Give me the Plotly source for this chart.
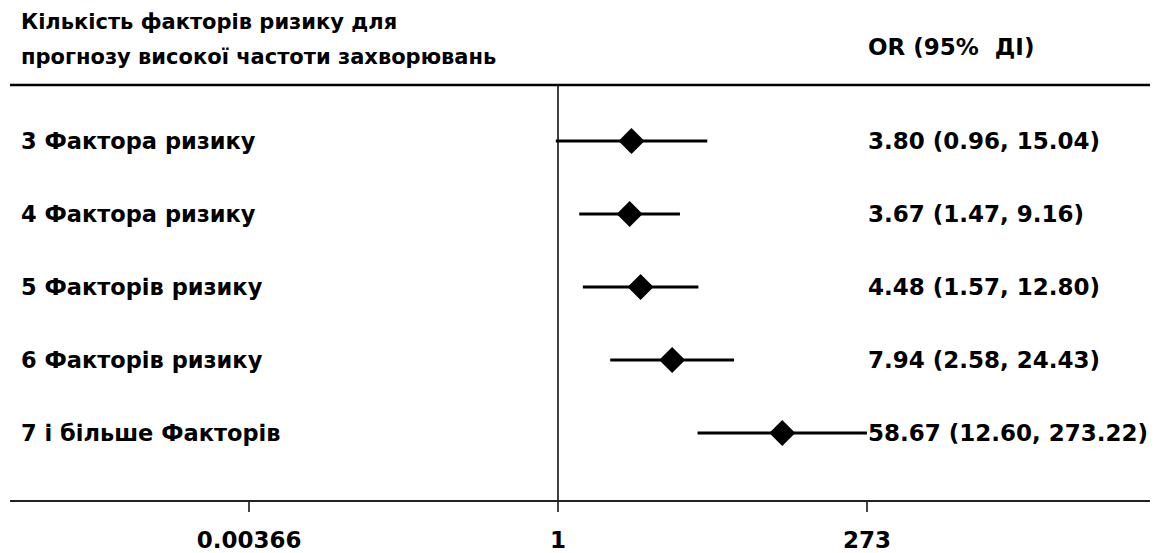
import plotly.graph_objects as go

labels = ["3 Фактора ризику", "4 Фактора ризику", "5 Факторів ризику",
          "6 Факторів ризику", "7 і більше Факторів"]
odds = [3.80, 3.67, 4.48, 7.94, 58.67]
lower = [0.96, 1.47, 1.57, 2.58, 12.60]
upper = [15.04, 9.16, 12.80, 24.43, 273.22]
rows = [5, 4, 3, 2, 1]
tick_vals = [0.00366, 1, 273]
tick_text = ["0.00366", "1", "273"]
header_left = ["Кількість факторів ризику для", "прогнозу високої частоти захворювань"]
header_right = "OR (95%  ДІ)"

FONT = "DejaVu Sans"

fig = go.Figure()
fig.add_trace(go.Scatter(
    x=odds, y=rows, mode="markers",
    marker=dict(symbol="diamond", size=20, color="black"),
    error_x=dict(type="data", symmetric=False,
                 array=[u - o for u, o in zip(upper, odds)],
                 arrayminus=[o - l for o, l in zip(odds, lower)],
                 width=0, thickness=3, color="black"),
    showlegend=False, hoverinfo="skip",
))

for lab, r in zip(labels, rows):
    fig.add_annotation(x=0.008, xref="paper", y=r, yref="y", text=f"<b>{lab}</b>",
                       showarrow=False, xanchor="left", yanchor="middle",
                       font=dict(family=FONT, size=22.5, color="black"))

for o, l, u, r in zip(odds, lower, upper, rows):
    fig.add_annotation(x=2.43, xref="x", y=r, yref="y",
                       text=f"<b>{o:.2f} ({l:.2f}, {u:.2f})</b>",
                       showarrow=False, xanchor="left", yanchor="middle",
                       font=dict(family=FONT, size=23, color="black"))

for txt, yy in zip(header_left, [1.152, 1.0675]):
    fig.add_annotation(x=0.008, xref="paper", y=yy, yref="paper",
                       text=f"<b>{txt}</b>",
                       showarrow=False, xanchor="left", yanchor="middle", align="left",
                       font=dict(family=FONT, size=21, color="black"))
fig.add_annotation(x=2.43, xref="x", y=1.0916, yref="paper",
                   text=f"<b>{header_right}</b>",
                   showarrow=False, xanchor="left", yanchor="middle",
                   font=dict(family=FONT, size=23, color="black"))

# top rule
fig.add_shape(type="line", xref="paper", yref="paper", x0=0, x1=1, y0=1, y1=1,
              line=dict(color="black", width=2.5))
# reference line at OR = 1
fig.add_shape(type="line", xref="x", yref="paper", x0=1, x1=1, y0=0, y1=1,
              line=dict(color="black", width=1.5))

fig.update_layout(
    width=1150, height=545,
    margin=dict(l=2, r=0, t=77, b=53),
    paper_bgcolor="white", plot_bgcolor="white",
    xaxis=dict(type="log", range=[-4.322, 4.732], showgrid=False, zeroline=False,
               showline=True, linecolor="#222", linewidth=2,
               ticks="outside", ticklen=10, tickwidth=1.5, tickcolor="#444",
               ticklabelstandoff=8,
               tickvals=tick_vals, ticktext=[f"<b>{t}</b>" for t in tick_text],
               tickfont=dict(family=FONT, size=23, color="black")),
    yaxis=dict(range=[0.082, 5.767], showgrid=False, zeroline=False,
               showticklabels=False, showline=False),
)

fig.write_html("out.html")
